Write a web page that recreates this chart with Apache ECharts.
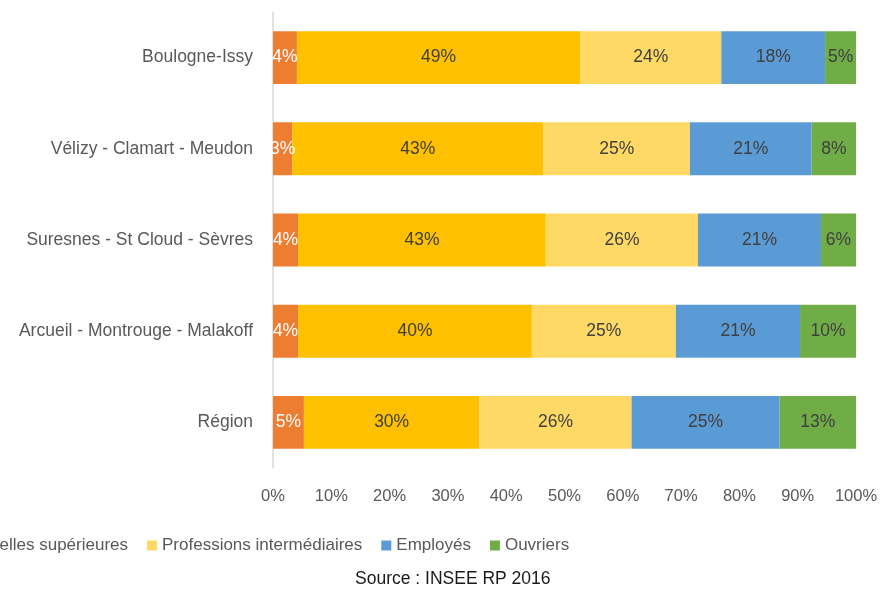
<!DOCTYPE html>
<html>
<head>
<meta charset="utf-8">
<script src="https://cdn.jsdelivr.net/npm/echarts@6/dist/echarts.min.js"></script>
<style>
  html, body { margin: 0; padding: 0; background: #fff; }
  #main { width: 880px; height: 589px; }
</style>
</head>
<body>
<div id="main"></div>
<script>
// territoires, de haut en bas
var territoires = ['Boulogne-Issy', 'Vélizy - Clamart - Meudon', 'Suresnes - St Cloud - Sèvres', 'Arcueil - Montrouge - Malakoff', 'Région'];
var categories = ['Artisans, commerçants, chefs d\'entreprise', 'Cadres et professions intellectuelles supérieures', 'Professions intermédiaires', 'Employés', 'Ouvriers'];
var couleurs = ['#ED7D31', '#FFC000', '#FFD966', '#5B9BD5', '#70AD47'];

// parts en %
var artisans = [4.1, 3.3, 4.3, 4.3, 5.3];
var cadres = [48.6, 43.1, 42.5, 40.1, 30.1];
var profInter = [24.2, 25.1, 26.1, 24.7, 26.1];
var employes = [17.8, 20.9, 21.1, 21.3, 25.4];
var ouvriers = [5.3, 7.6, 6.0, 9.6, 13.1];
var valeurs = [artisans, cadres, profInter, employes, ouvriers];

var xTicks = [0, 10, 20, 30, 40, 50, 60, 70, 80, 90, 100];

var police = '"Liberation Sans", Arial, sans-serif';

// légende coupée à gauche comme dans l'original : on cale le marqueur jaune à x=147
var ctx = document.createElement('canvas').getContext('2d');
ctx.font = '17px ' + police;
var iconW = 10, gap = 19;
var decal = 2 * (iconW + 5) + ctx.measureText(categories[0]).width + ctx.measureText(categories[1]).width + 2 * gap;
var legendLeft = 147 - decal;

var myChart = echarts.init(document.getElementById('main'));

var series = categories.map(function (nom, i) {
    return {
        name: nom,
        type: 'bar',
        stack: 'total',
        barCategoryGap: '42%',
        itemStyle: { color: couleurs[i] },
        label: {
            show: true,
            position: 'inside',
            fontFamily: police,
            fontSize: 17.5,
            color: i === 0 ? '#ffffff' : '#404040',
            formatter: function (p) { return Math.round(p.value) + '%'; }
        },
        data: valeurs[i]
    };
});

var option = {
    backgroundColor: '#ffffff',
    animation: false,
    title: {
        text: 'Source : INSEE RP 2016',
        left: 355,
        top: 570,
        padding: 0,
        textStyle: { fontFamily: police, fontSize: 17.5, fontWeight: 'normal', color: '#1a1a1a' }
    },
    legend: {
        left: legendLeft,
        top: 537,
        padding: 0,
        itemWidth: iconW,
        itemHeight: iconW,
        itemGap: gap,
        icon: 'rect',
        textStyle: { fontFamily: police, fontSize: 17, color: '#595959' },
        data: categories
    },
    grid: {
        left: 273,
        right: 24,
        top: 12,
        bottom: 121,
        containLabel: false,
        outerBoundsMode: 'none'
    },
    xAxis: {
        type: 'value',
        min: 0,
        max: 100,
        interval: 10,
        axisLine: { show: false },
        axisTick: { show: false },
        splitLine: { show: false },
        axisLabel: {
            margin: 20,
            fontFamily: police,
            fontSize: 16.5,
            color: '#595959',
            formatter: function (v) { return xTicks.indexOf(v) >= 0 ? v + '%' : ''; }
        }
    },
    yAxis: {
        type: 'category',
        inverse: true,
        data: territoires,
        axisLine: { show: true, lineStyle: { color: '#d9d9d9', width: 1.5 } },
        axisTick: { show: false },
        axisLabel: {
            margin: 20,
            fontFamily: police,
            fontSize: 17.5,
            color: '#595959'
        }
    },
    series: series
};

myChart.setOption(option);
</script>
</body>
</html>
